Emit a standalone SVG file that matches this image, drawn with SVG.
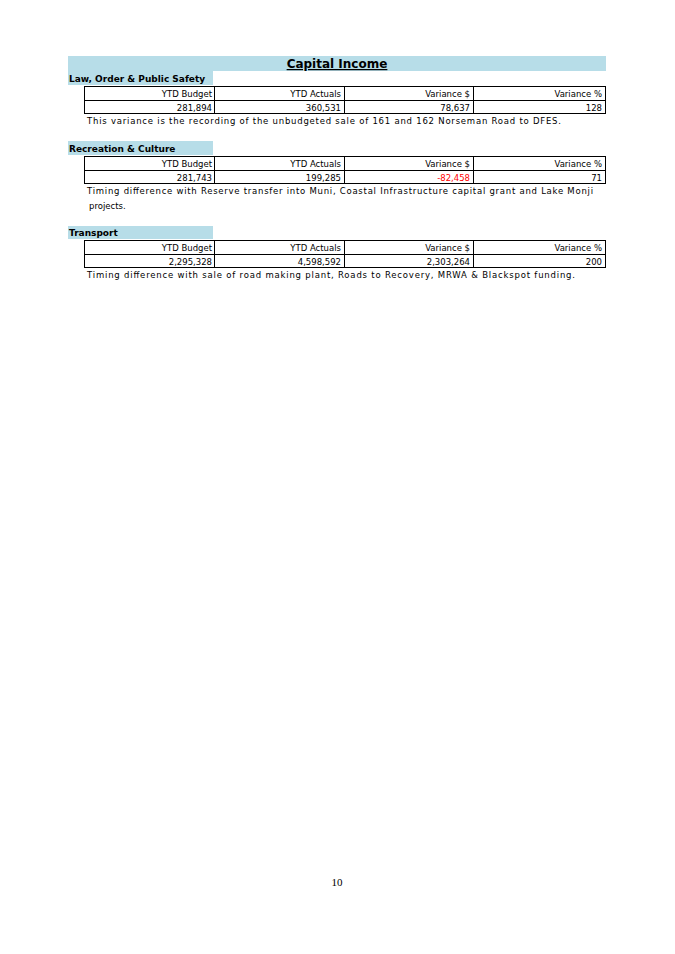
<svg xmlns="http://www.w3.org/2000/svg" width="675" height="954" viewBox="0 0 675 954">
<style>
.bar{fill:#b7dde8}
.t{font-family:"DejaVu Sans",sans-serif;font-size:8.5px;fill:#000}
.h{font-family:"DejaVu Sans",sans-serif;font-size:9px;font-weight:bold;fill:#000}
.r{text-anchor:end}
.grid{fill:none;stroke:#000;stroke-width:1}
</style>
<rect width="675" height="954" fill="#fff"/>
<g id="title">
<rect class="bar" x="68" y="56" width="538" height="15"/>
<text x="337" y="68" text-anchor="middle" font-family="DejaVu Sans,sans-serif" font-size="12" font-weight="bold" text-decoration="underline">Capital Income</text>
</g>
<g id="law">
<rect class="bar" x="68" y="71" width="145" height="14"/>
<text class="h" x="69" y="82">Law, Order &amp; Public Safety</text>
<rect class="grid" x="84.5" y="86.5" width="521" height="27"/>
<path class="grid" d="M84.5 100.5H605.5M214.5 86.5V113.5M344.5 86.5V113.5M473.5 86.5V113.5"/>
<text class="t r" x="212" y="97">YTD Budget</text><text class="t r" x="341" y="97">YTD Actuals</text><text class="t r" x="470" y="97">Variance $</text><text class="t r" x="602" y="97">Variance %</text>
<text class="t r" x="212" y="111">281,894</text><text class="t r" x="341" y="111">360,531</text><text class="t r" x="470" y="111">78,637</text><text class="t r" x="602" y="111">128</text>
<text class="t" x="87" y="124" textLength="474">This variance is the recording of the unbudgeted sale of 161 and 162 Norseman Road to DFES.</text>
</g>
<g id="rec">
<rect class="bar" x="68" y="141" width="145" height="14"/>
<text class="h" x="69" y="152">Recreation &amp; Culture</text>
<rect class="grid" x="84.5" y="156.5" width="521" height="27"/>
<path class="grid" d="M84.5 170.5H605.5M214.5 156.5V183.5M344.5 156.5V183.5M473.5 156.5V183.5"/>
<text class="t r" x="212" y="167">YTD Budget</text><text class="t r" x="341" y="167">YTD Actuals</text><text class="t r" x="470" y="167">Variance $</text><text class="t r" x="602" y="167">Variance %</text>
<text class="t r" x="212" y="181">281,743</text><text class="t r" x="341" y="181">199,285</text><text class="t r" x="470" y="181" fill="#ff0000" style="fill:#ff0000">-82,458</text><text class="t r" x="602" y="181">71</text>
<text class="t" x="87" y="194" textLength="506">Timing difference with Reserve transfer into Muni, Coastal Infrastructure capital grant and Lake Monji</text>
<text class="t" x="89" y="209">projects.</text>
</g>
<g id="transport">
<rect class="bar" x="68" y="226" width="145" height="13"/>
<text class="h" x="69" y="236">Transport</text>
<rect class="grid" x="84.5" y="240.5" width="521" height="27"/>
<path class="grid" d="M84.5 254.5H605.5M214.5 240.5V267.5M344.5 240.5V267.5M473.5 240.5V267.5"/>
<text class="t r" x="212" y="251">YTD Budget</text><text class="t r" x="341" y="251">YTD Actuals</text><text class="t r" x="470" y="251">Variance $</text><text class="t r" x="602" y="251">Variance %</text>
<text class="t r" x="212" y="265">2,295,328</text><text class="t r" x="341" y="265">4,598,592</text><text class="t r" x="470" y="265">2,303,264</text><text class="t r" x="602" y="265">200</text>
<text class="t" x="87" y="278" textLength="488">Timing difference with sale of road making plant, Roads to Recovery, MRWA &amp; Blackspot funding.</text>
</g>
<text x="337" y="886" text-anchor="middle" font-family="Liberation Serif,serif" font-size="11">10</text>
</svg>
